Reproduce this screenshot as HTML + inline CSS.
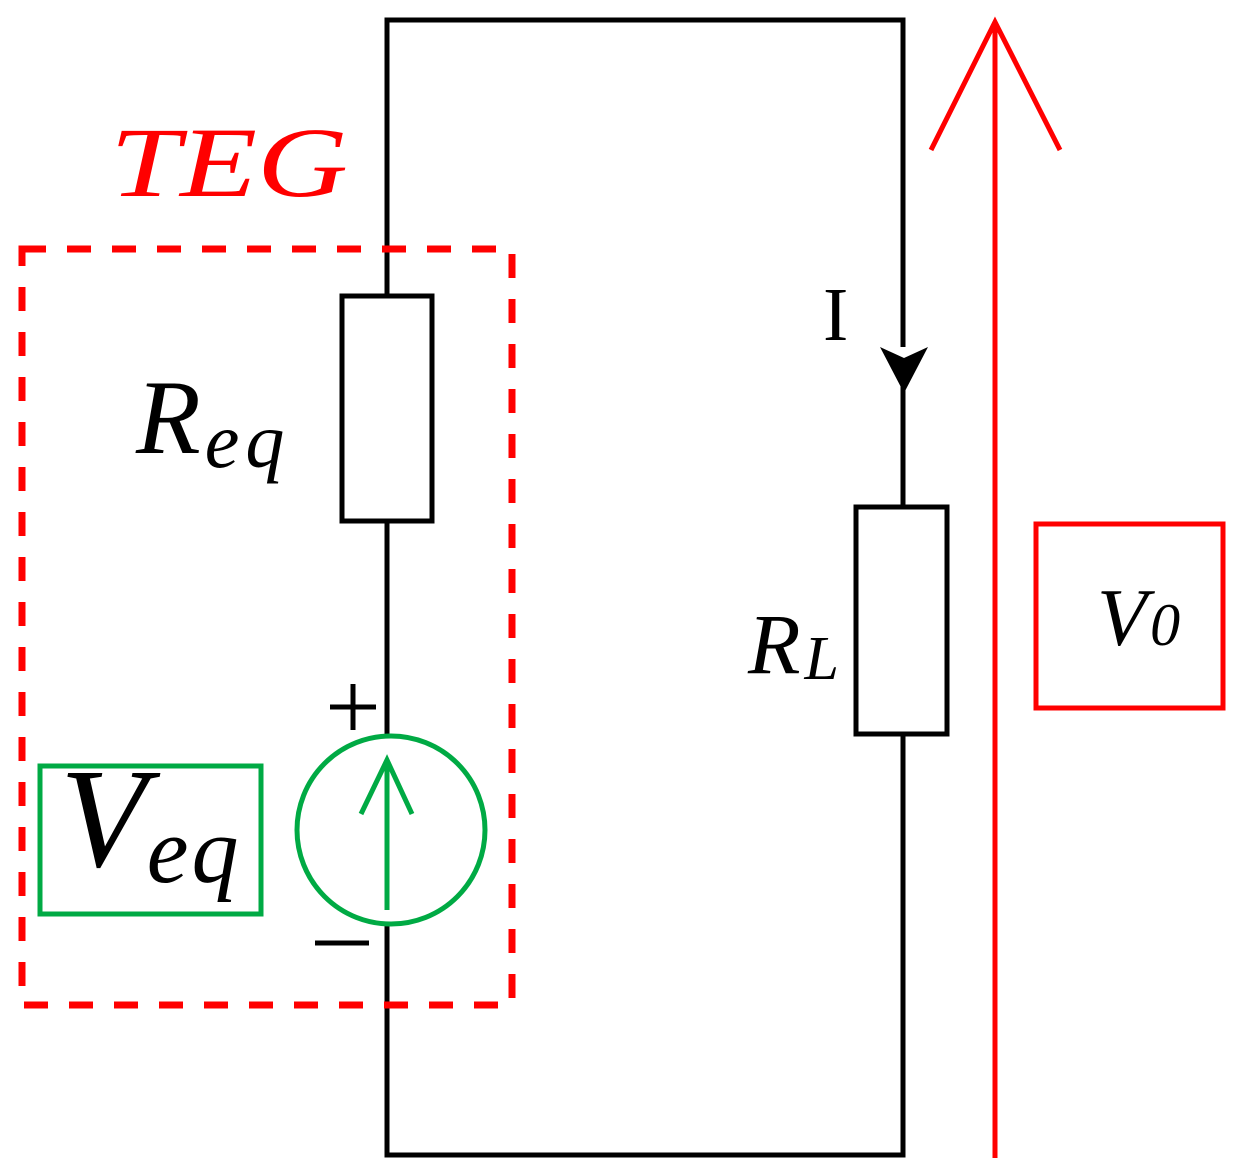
<!DOCTYPE html>
<html><head><style>html,body{margin:0;padding:0;background:#fff;}svg{display:block}</style></head>
<body>
<svg width="1240" height="1176" viewBox="0 0 1240 1176" xmlns="http://www.w3.org/2000/svg">
<g fill="none" stroke="#000" stroke-width="5">
<polyline points="387,296 387,20 903,20 903,347"/>
<line x1="903" y1="380" x2="903" y2="507"/>
<polyline points="903,734 903,1155 387,1155 387,925"/>
<line x1="387" y1="521" x2="387" y2="738"/>
<rect x="342" y="296" width="90" height="225"/>
<rect x="856" y="507" width="91" height="227"/>
</g>
<polygon points="880,347 904,358 928,347 904,393" fill="#000"/>
<rect x="22" y="249" width="490" height="756" fill="none" stroke="#f00" stroke-width="7" stroke-dasharray="24,21"/>
<circle cx="391" cy="830" r="94" fill="none" stroke="#00aa44" stroke-width="5"/>
<g stroke="#00aa44" stroke-width="5" fill="none">
<line x1="387" y1="910" x2="387" y2="760"/>
<polyline points="361,814 387,760 412,814"/>
</g>
<rect x="40" y="766" width="221" height="148" fill="none" stroke="#00aa44" stroke-width="5"/>
<g stroke="#f00" stroke-width="5" fill="none">
<line x1="995" y1="1158" x2="995" y2="22"/>
<polyline points="931,150 995,22 1060,150"/>
<rect x="1036" y="524" width="187" height="184"/>
</g>
<g font-family="Liberation Serif, serif" font-style="italic">
<text transform="translate(110,196) scale(1.26,1)" font-size="100" fill="#f00">TEG</text>
<text x="136" y="453" font-size="106" letter-spacing="4">R<tspan font-size="78" dy="14" letter-spacing="6">eq</tspan></text>
<text x="60" y="866" font-size="142">V<tspan font-size="94" dy="16" letter-spacing="3">eq</tspan></text>
<text x="748" y="673" font-size="86" letter-spacing="4">R<tspan font-size="62" dy="6">L</tspan></text>
<text x="1097" y="645" font-size="82" letter-spacing="3">V<tspan font-size="60">0</tspan></text>
</g>
<text x="823" y="340" font-family="Liberation Serif, serif" font-size="76">I</text>
<g stroke="#000" stroke-width="5">
<line x1="330" y1="707" x2="376" y2="707"/><line x1="353" y1="684" x2="353" y2="730"/>
<line x1="315" y1="943" x2="369" y2="943"/>
</g>
</svg>
</body></html>
